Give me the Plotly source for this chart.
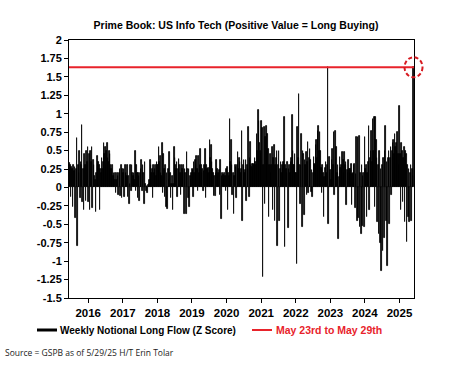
import pandas as pd
import plotly.graph_objects as go

# Weekly Notional Long Flow (Z score), grouped by year
v2015 = [0.33, 0.3, -0.13, 0.28, 0.25, -0.26, 0.3, 0.22, 0.28, -0.42, 0.25, 0.67, -0.8, 0.3, 0.2,
         0.5, -0.15, 0.35, 0.3, 0.85, -0.2, 0.25, -0.3, 0.46, 0.3, -0.18, 0.5, 0.35, 0.55, -0.2]
v2016 = [0.46, -0.3, 0.5, 0.35, 0.55, -0.28, 0.37, 0.3, 0.15, 0.1, -0.33, 0.2, 0.42, 0.3, 0.35,
         0.3, -0.3, 0.25, 0.2, 0.4, 0.25, 0.35, 0.6, 0.45, 0.55, 0.3, 0.5, 0.6, 0.4, 0.35,
         0.5, 0.46, 0.3, 0.25, 0.2, 0.3, 0.15, 0.2, 0.1, 0.2, -0.08, 0.1, 0.2, 0.15, -0.1,
         0.2, 0.25, -0.12, 0.3, -0.15, 0.25, 0.2]
v2017 = [0.25, -0.13, 0.3, 0.2, 0.15, 0.3, -0.13, 0.15, -0.22, 0.05, 0.3, -0.05, 0.3, 0.2, 0.15,
         0.2, 0.1, 0.5, -0.05, 0.3, 0.2, -0.15, 0.2, 0.15, -0.18, 0.2, 0.25, 0.37, -0.05, 0.3,
         0.2, -0.22, 0.35, 0.05, -0.05, 0.02, -0.08, 0.03, 0.05, 0.1, 0.37, 0.3, 0.2, 0.25, -0.15,
         0.3, 0.2, 0.25, 0.3, 0.15, 0.35, 0.3]
v2018 = [0.3, 0.55, 0.35, 0.43, 0.2, 0.15, 0.6, -0.08, 0.45, 0.25, -0.13, 0.3, -0.27, 0.2, -0.29,
         0.25, 0.1, 0.48, 0.2, -0.15, 0.05, 0.15, -0.31, 0.05, 0.55, 0.4, 0.3, 0.25, 0.35, -0.13,
         0.25, 0.39, 0.3, 0.2, -0.1, 0.3, 0.25, 0.2, 0.3, -0.36, 0.25, 0.2, -0.36, 0.48, 0.25,
         -0.15, 0.25, -0.27, 0.15, 0.1, 0.2, 0.25]
v2019 = [0.23, -0.13, 0.34, 0.2, 0.37, 0.3, 0.43, 0.25, -0.05, 0.43, 0.2, 0.3, 0.52, 0.3, 0.2,
         0.25, -0.05, 0.22, 0.3, 0.52, -0.15, 0.3, 0.25, 0.2, 0.27, 0.2, 0.64, 0.4, 0.57, 0.35,
         0.25, 0.2, -0.11, 0.15, -0.11, 0.2, 0.37, 0.25, 0.15, 0.2, 0.23, -0.1, 0.37, -0.43, 0.15,
         0.2, 0.17, 0.1, 0.2, 0.15, -0.05, 0.25]
v2020 = [0.28, -0.31, 0.2, 0.15, 0.93, 0.35, 0.64, 0.3, -0.1, 0.2, -0.36, 0.15, 0.3, 0.28, -0.15,
         0.3, 0.48, 0.25, 0.4, 0.35, 0.2, 0.25, 0.77, -0.45, 0.3, 0.37, 0.2, 0.23, 0.37, -0.18,
         0.3, 0.25, 0.82, -0.13, 0.4, 0.62, 0.3, 0.28, 0.32, 0.25, 0.32, 0.3, 0.4, 0.35, 0.3,
         0.73, 0.5, 1.05, 0.9, 0.6, 0.5, 0.45]
v2021 = [0.9, 0.8, -1.22, 0.3, 0.82, -0.22, 0.68, 0.84, 0.5, 0.73, 0.52, -0.4, 0.3, 0.45, 0.2,
         0.3, 0.55, -0.31, 0.4, 0.57, -0.45, 0.3, 0.4, 0.5, -0.79, 0.3, 0.5, -0.45, 0.25, 0.35,
         0.2, 0.3, 0.25, 0.35, 0.95, -0.81, 0.3, 0.25, 0.2, 0.35, -0.55, 0.25, 0.3, 0.2, 0.35,
         0.4, 0.98, 0.5, 0.3, 0.3, 0.45, 0.2]
v2022 = [0.2, -1.04, 0.82, 0.4, 1.27, 0.3, -0.22, 0.3, 0.73, -0.54, 0.5, 0.45, -0.38, 0.37, 0.3,
         0.48, -0.1, 0.35, 0.62, -0.08, 0.4, 0.52, 0.37, -0.06, 0.23, -0.13, 0.2, 0.41, 0.32, 0.3,
         0.57, 0.64, 0.4, 0.77, 0.84, 0.5, 0.75, 0.5, 0.27, -0.08, 0.3, 0.2, -0.4, 0.14, 0.27,
         0.34, 0.2, 0.3, 1.63, -0.49, 0.41, 0.2]
v2023 = [0.23, 0.1, 0.37, 0.52, 0.3, 0.75, -0.1, 0.77, 0.4, 0.55, 0.2, 0.3, -0.7, 0.14, 0.41,
         0.27, 0.3, 0.25, 0.48, 0.37, 0.2, 0.48, 0.3, 0.35, -0.24, 0.23, 0.2, 0.37, 0.25, 0.2,
         0.25, 0.32, -0.24, 0.18, 0.2, 0.3, 0.32, -0.28, 0.18, 0.68, -0.45, 0.68, -0.42, 0.7, -0.54,
         0.2, -0.63, 0.3, -0.52, 0.15, 0.2, -0.54]
v2024 = [0.68, 0.25, 0.3, -0.4, 0.2, 0.35, 0.84, -0.3, 0.4, 0.5, 0.77, 0.35, 0.93, 0.5, 0.95,
         -0.27, 0.95, 0.64, 0.4, -0.47, 0.3, -0.63, 0.5, -0.76, 0.25, -1.13, 0.3, -0.86, 0.4, -0.68,
         0.5, 0.84, -0.45, 0.35, -1.06, 0.4, 0.5, -0.5, 0.4, 0.55, -0.1, 0.5, 0.6, 0.64, 0.45,
         0.73, 0.55, 0.6, 0.5, 0.75, 0.45, 0.3]
v2025 = [1.11, 0.45, -0.3, 0.6, 0.5, -0.2, 0.4, 0.55, -0.47, 0.5, 0.45, -0.74, 0.3, -0.4, 0.25,
         -0.47, 0.2, 0.3, -0.45, 0.25, 0.15, 1.63]

values = v2015 + v2016 + v2017 + v2018 + v2019 + v2020 + v2021 + v2022 + v2023 + v2024 + v2025
last_date = "2025-05-29"
dates = pd.date_range(end=last_date, periods=len(values), freq="7D")
latest = values[-1]

y_ticks = [2, 1.75, 1.5, 1.25, 1, 0.75, 0.5, 0.25, 0, -0.25, -0.5, -0.75, -1, -1.25, -1.5]
y_labels = ["2", "1.75", "1.5", "1.25", "1", "0.75", "0.5", "0.25", "0",
            "-0.25", "-0.5", "-0.75", "-1", "-1.25", "-1.5"]

series_name = "Weekly Notional Long Flow (Z Score)"
line_name = "May 23rd to May 29th"

FONT = "Liberation Sans"
RED = "#e8232b"

x_start = dates[0] - pd.Timedelta(days=6)
x_end = dates[-1] + pd.Timedelta(days=5)
y_min, y_max = -1.5, 2

fig = go.Figure()
fig.add_trace(go.Bar(x=dates, y=values, marker=dict(color="black", line=dict(color="black", width=0.8)),
                     name=series_name, showlegend=False))

# red horizontal line at the latest reading
fig.add_shape(type="line", xref="paper", x0=0, x1=1, yref="y", y0=latest, y1=latest,
              line=dict(color=RED, width=2))
# dashed circle around the latest bar (paper refs so it is not clipped)
cx = (dates[-1] - x_start) / (x_end - x_start)
cy = (latest - y_min) / (y_max - y_min)
fig.add_shape(type="circle", xref="paper", yref="paper", xsizemode="pixel", ysizemode="pixel",
              xanchor=cx, yanchor=cy, x0=-9, x1=9, y0=-10, y1=10,
              line=dict(color="#d71920", width=2, dash="4px,2.5px"))

# manual legend (pixel -> paper conversion helpers)
def px(xp):
    return (xp - 69) / 345

def py(yp):
    return (298 - yp) / 258

fig.add_shape(type="line", xref="paper", yref="paper", x0=px(37), x1=px(57), y0=py(330), y1=py(330),
              line=dict(color="black", width=3))
fig.add_annotation(text="<b>%s</b>" % series_name, xref="paper", yref="paper", x=px(58), y=py(330),
                   xanchor="left", yanchor="middle", showarrow=False,
                   font=dict(family=FONT, size=10, color="black"))
fig.add_shape(type="line", xref="paper", yref="paper", x0=px(252), x1=px(272), y0=py(330), y1=py(330),
              line=dict(color=RED, width=2))
fig.add_annotation(text="<b>%s</b>" % line_name, xref="paper", yref="paper", x=px(274), y=py(330),
                   xanchor="left", yanchor="middle", showarrow=False,
                   font=dict(family=FONT, size=10.5, color=RED))

fig.add_annotation(text="Source = GSPB as of 5/29/25 H/T Erin Tolar", xref="paper", yref="paper",
                   x=px(3), y=py(352), xanchor="left", yanchor="middle",
                   showarrow=False, font=dict(family="Open Sans", size=8.5, color="#222"))

fig.update_layout(
    width=453, height=365,
    margin=dict(l=69, r=39, t=40, b=67),
    paper_bgcolor="white", plot_bgcolor="white",
    bargap=0, showlegend=False, hovermode=False,
    title=dict(text="<b>Prime Book: US Info Tech (Positive Value = Long Buying)</b>",
               x=236 / 453, xanchor="center", y=1 - 25 / 365, yanchor="middle", yref="container",
               font=dict(family=FONT, size=10.5, color="black")),
    font=dict(family=FONT, color="black"),
    xaxis=dict(type="date", range=[x_start, x_end],
               tick0="2016-01-01", dtick="M12", tickformat="%Y",
               ticks="outside", ticklen=4, tickcolor="black", showgrid=False,
               showline=True, linecolor="black", linewidth=1, mirror=True,
               tickprefix="<b>", ticksuffix="</b>",
               tickfont=dict(family=FONT, size=11.5, color="black"), zeroline=False),
    yaxis=dict(range=[y_min, y_max], tickvals=y_ticks, ticktext=["<b>%s</b>" % t for t in y_labels],
               ticks="outside", ticklen=4, tickcolor="black", showgrid=False,
               showline=True, linecolor="black", linewidth=1, mirror=True, zeroline=False,
               tickfont=dict(family=FONT, size=11, color="black")),
)

fig.write_html("out.html", config={"displayModeBar": False},
               post_script="document.body.style.margin='0';")
